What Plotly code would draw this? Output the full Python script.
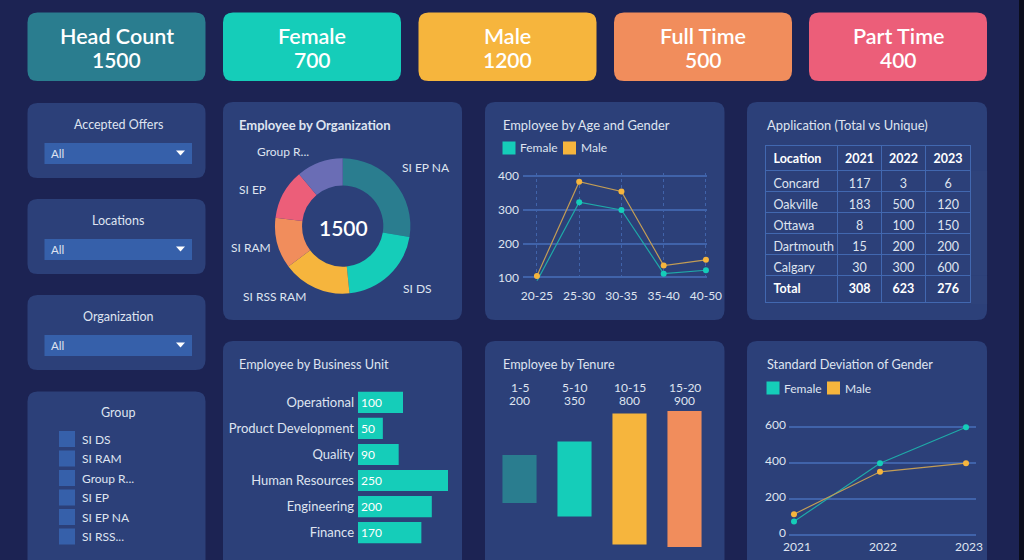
import plotly.graph_objects as go

W = 1024
H = 560
FONT = "Lato"
BG = "#1c2353"
CARD = "#2c4079"
DROP = "#3660aa"
GRID = "#4063aa"
TXT = "#dfe4f0"
TEAL = "#2a7d8f"
GREEN = "#15cdb9"
YELLOW = "#f6b53d"
ORANGE = "#f18d5c"
PINK = "#ec5e79"
PURPLE = "#6a6db5"
GREEN_LINE = "#1fa9a8"
YELLOW_LINE = "#c29c55"

kpi_names = ["Head Count", "Female", "Male", "Full Time", "Part Time"]
kpi_values = [1500, 700, 1200, 500, 400]

filter_names = ["Accepted Offers", "Locations", "Organization"]
group_names = ["SI DS", "SI RAM", "Group R...", "SI EP", "SI EP NA", "SI RSS..."]

org_labels = ["SI EP NA", "SI DS", "SI RSS RAM", "SI RAM", "SI EP", "Group R..."]
org_values = [414, 312, 246, 182, 179, 167]

age_groups = ["20-25", "25-30", "30-35", "35-40", "40-50"]
age_female = [89, 323, 300, 111, 121]
age_male = [104, 384, 355, 135, 152]

table_head = ["Location", "2021", "2022", "2023"]
table_loc = ["Concard", "Oakville", "Ottawa", "Dartmouth", "Calgary"]
table_2021 = [117, 183, 8, 15, 30]
table_2022 = [3, 500, 100, 200, 300]
table_2023 = [6, 120, 150, 200, 600]
table_total = ["Total", 308, 623, 276]

unit_names = ["Operational", "Product Development", "Quality", "Human Resources", "Engineering", "Finance"]
unit_values = [100, 50, 90, 250, 200, 170]
# the bars in the picture are not proportional to their labels, so lengths are kept apart
unit_lengths = [125, 69, 113, 250, 205, 176]

tenure_names = ["1-5", "5-10", "10-15", "15-20"]
tenure_values = [200, 350, 800, 900]
tenure_lengths = [200, 312, 546, 567]
tenure_colors = [TEAL, GREEN, YELLOW, ORANGE]

std_years = ["2021", "2022", "2023"]
std_female = [75, 400, 600]
std_male = [116, 352, 400]


def px(x):
    return x / W


def py(y):
    return 1 - y / H


def card(x0, y0, x1, y1, color=CARD, r=10):
    a, b, c, d = px(x0), py(y0), px(x1), py(y1)
    rx, ry = r / W, r / H
    path = (f"M {a+rx} {b} L {c-rx} {b} Q {c} {b} {c} {b-ry} L {c} {d+ry} Q {c} {d} {c-rx} {d} "
            f"L {a+rx} {d} Q {a} {d} {a} {d+ry} L {a} {b-ry} Q {a} {b} {a+rx} {b} Z")
    return dict(type="path", xref="paper", yref="paper", path=path, fillcolor=color,
                line=dict(width=0), layer="below")


def box(x0, y0, x1, y1, color):
    return dict(type="rect", xref="paper", yref="paper", x0=px(x0), x1=px(x1), y0=py(y0), y1=py(y1),
                fillcolor=color, line=dict(width=0), layer="below")


def arrow(xc, yc):
    path = f"M {px(xc-4.5)} {py(yc-2.5)} L {px(xc+4.5)} {py(yc-2.5)} L {px(xc)} {py(yc+2.5)} Z"
    return dict(type="path", xref="paper", yref="paper", path=path, fillcolor="white", line=dict(width=0))


def label(x, y, text, size=12, anchor="center", color=TXT, weight=400):
    return dict(xref="paper", yref="paper", x=px(x), y=py(y), text=text, showarrow=False, xanchor=anchor,
                yanchor="middle", borderpad=0, borderwidth=0,
                font=dict(family=FONT, size=size, color=color, weight=weight))


shapes = []
notes = []

# dark stripe on the right edge of the picture
shapes.append(box(1019, 0, 1024, 560, "#0b0d1c"))

# top row of numbers
kpi_left = [27.5, 223, 418.5, 614, 809]
kpi_colors = [TEAL, GREEN, YELLOW, ORANGE, PINK]
for i in range(5):
    shapes.append(card(kpi_left[i], 12.5, kpi_left[i] + 178, 81, kpi_colors[i]))
    mid = kpi_left[i] + 89
    notes.append(label(mid, 35.5, kpi_names[i], 21.5, color="white", weight=600))
    notes.append(label(mid, 59.5, str(kpi_values[i]), 21, color="white", weight=600))

# left filters
for i in range(3):
    top = 103 + 96 * i
    shapes.append(card(27.5, top, 205.5, top + 75))
    shapes.append(box(44.5, top + 40, 192, top + 61, DROP))
    shapes.append(arrow(180.5, top + 50))
    notes.append(label(118, top + 21.5, filter_names[i], 12.5))
    notes.append(label(51, top + 50.5, "All", 11.5, "left"))

shapes.append(card(27.5, 391.5, 205.5, 580))
notes.append(label(118, 412.5, "Group", 12.5))
for i in range(6):
    yc = 439 + 19.5 * i
    shapes.append(box(59, yc - 8, 75, yc + 8, DROP))
    notes.append(label(82, yc, group_names[i], 12, "left"))

# panels
for x0, x1 in [(223, 462), (485, 724.5), (747, 987)]:
    shapes.append(card(x0, 102, x1, 320))
    shapes.append(card(x0, 341, x1, 580))

notes.append(label(239, 125, "<b>Employee by Organization</b>", 13, "left"))
notes.append(label(503, 125, "Employee by Age and Gender", 12.9, "left"))
notes.append(label(767, 125, "Application (Total vs Unique)", 12.9, "left"))
notes.append(label(239, 364, "Employee by Business Unit", 12.7, "left"))
notes.append(label(503, 364, "Employee by Tenure", 12.7, "left"))
notes.append(label(767, 364, "Standard Deviation of Gender", 12.7, "left"))

# legends
for lx, ly in [(502.5, 148), (766.5, 388)]:
    shapes.append(box(lx, ly - 6.5, lx + 13, ly + 6.5, GREEN))
    shapes.append(box(lx + 60.5, ly - 6.5, lx + 73.5, ly + 6.5, YELLOW))
    notes.append(label(lx + 17.5, ly, "Female", 12, "left"))
    notes.append(label(lx + 78, ly, "Male", 12, "left"))

fig = go.Figure()

# donut
fig.add_trace(go.Pie(labels=org_labels, values=org_values, hole=0.6, sort=False, direction="clockwise",
                     rotation=0, textinfo="none",
                     marker=dict(colors=[TEAL, GREEN, YELLOW, ORANGE, PINK, PURPLE], line=dict(width=0)),
                     domain=dict(x=[px(275), px(410.4)], y=[py(293.7), py(158.3)]), showlegend=False))
notes.append(label(343, 227, "1500", 21, color="white", weight=600))
org_label_pos = [(426, 167), (417, 288), (274, 296), (251, 247), (252, 189), (283, 152)]
for name, pos in zip(org_labels, org_label_pos):
    notes.append(label(pos[0], pos[1], name, 12))

# age and gender lines
for vals, col, lcol in [(age_female, GREEN, GREEN_LINE), (age_male, YELLOW, YELLOW_LINE)]:
    fig.add_trace(go.Scatter(x=age_groups, y=vals, mode="lines+markers", xaxis="x", yaxis="y", showlegend=False,
                             cliponaxis=False, line=dict(color=lcol, width=1.2), marker=dict(color=col, size=6)))

# table, the bold total row has to be its own header because weight only goes per column
col_w = [72.7, 43.3, 44.7, 45]
col_align = ["left", "center", "center", "center"]
border = dict(color="#4268b0", width=1)
bold_font = dict(family=FONT, size=12.5, color="white", weight=700)
fig.add_trace(go.Table(
    domain=dict(x=[px(765.5), px(971)], y=[py(275.6), py(145.5)]),
    columnwidth=col_w,
    header=dict(values=table_head, height=25.3, align=col_align, fill_color=CARD, line=border, font=bold_font),
    cells=dict(values=[table_loc, table_2021, table_2022, table_2023], height=20.9, align=col_align,
               fill_color=CARD, line=border, font=dict(family=FONT, size=12.5, color=TXT))))
fig.add_trace(go.Table(
    domain=dict(x=[px(765.5), px(971)], y=[py(305), py(275.4)]),
    columnwidth=col_w,
    header=dict(values=table_total, height=27, align=col_align, fill_color=CARD, line=border, font=bold_font)))

# business unit bars
fig.add_trace(go.Bar(y=unit_names, x=unit_lengths, orientation="h", xaxis="x2", yaxis="y2", showlegend=False,
                     marker=dict(color=GREEN, line=dict(width=0)), text=unit_values, textposition="inside",
                     insidetextanchor="start", textangle=0, textfont=dict(family=FONT, size=12, color="white")))

# tenure, centred bars
fig.add_trace(go.Bar(x=tenure_names, y=tenure_lengths, base=[-v / 2 for v in tenure_lengths], xaxis="x3", yaxis="y3",
                     showlegend=False, width=0.62, marker=dict(color=tenure_colors, line=dict(width=0))))
for name, val in zip(tenure_names, tenure_values):
    for yt, txt in [(387, name), (400, str(val))]:
        notes.append(dict(xref="x3", yref="paper", x=name, y=py(yt), text=txt, showarrow=False, xanchor="center",
                          yanchor="middle", borderpad=0, font=dict(family=FONT, size=12, color=TXT)))

# std deviation lines
for vals, col, lcol in [(std_female, GREEN, GREEN_LINE), (std_male, YELLOW, YELLOW_LINE)]:
    fig.add_trace(go.Scatter(x=std_years, y=vals, mode="lines+markers", xaxis="x4", yaxis="y4", showlegend=False,
                             cliponaxis=False, line=dict(color=lcol, width=1.2), marker=dict(color=col, size=6)))

tick_font = dict(family=FONT, size=12, color=TXT)

fig.update_layout(
    width=W, height=H, margin=dict(l=0, r=0, t=0, b=0, autoexpand=False), paper_bgcolor=BG,
    plot_bgcolor="rgba(0,0,0,0)", shapes=shapes, annotations=notes, font=dict(family=FONT), bargap=0.19,
    xaxis=dict(domain=[px(523), px(707)], range=[-0.33, 4.025], type="category", anchor="y", showgrid=True,
               gridcolor=GRID, griddash="dot", gridwidth=1, zeroline=False, showline=False, tickfont=tick_font,
               ticks="", ticklabelstandoff=6),
    yaxis=dict(domain=[py(280.7), py(172.9)], range=[90, 410], tickvals=[100, 200, 300, 400], anchor="x",
               showgrid=True, gridcolor=GRID, gridwidth=1.5, zeroline=False, showline=False, tickfont=tick_font,
               ticks="", ticklabelstandoff=3),
    xaxis2=dict(domain=[px(358), px(448)], range=[0, 250], anchor="y2", visible=False),
    yaxis2=dict(domain=[py(545.7), py(389.3)], autorange="reversed", type="category", anchor="x2", showgrid=False,
                zeroline=False, showline=False, tickfont=dict(family=FONT, size=13, color=TXT), ticks="",
                ticklabelstandoff=3),
    xaxis3=dict(domain=[px(492), px(712)], range=[-0.5, 3.5], type="category", anchor="y3", showgrid=False,
                zeroline=False, showline=False, showticklabels=False, ticks=""),
    yaxis3=dict(domain=[py(548.6), py(409.4)], range=[-290, 290], anchor="x3", visible=False),
    xaxis4=dict(domain=[px(789), px(976)], range=[-0.058, 2.116], type="category", anchor="y4", showgrid=False,
                zeroline=False, showline=False, tickfont=tick_font, ticks="", ticklabelshift=3, ticklabelstandoff=1),
    yaxis4=dict(domain=[py(536.8), py(423.7)], range=[-10, 620], tickvals=[0, 200, 400, 600], anchor="x4", showgrid=True,
                gridcolor=GRID, gridwidth=1.5, zeroline=False, showline=False, tickfont=tick_font, ticks="",
                ticklabelshift=-2, ticklabelstandoff=2),
)

fig.write_html("out.html", config=dict(displayModeBar=False), post_script="document.body.style.margin='0';")
